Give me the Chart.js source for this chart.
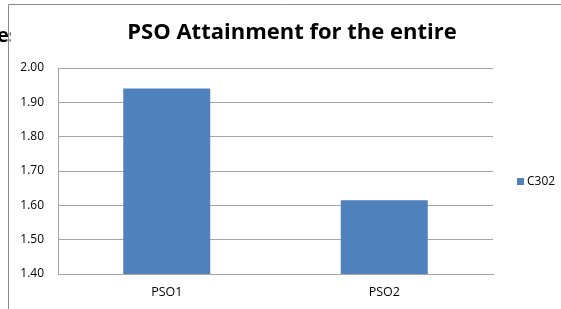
<!DOCTYPE html>
<html>
<head>
<meta charset="utf-8">
<script src="https://cdn.jsdelivr.net/npm/chart.js@4"></script>
<style>
  html, body { margin: 0; padding: 0; background: #fff; }
  #wrap { width: 561px; height: 309px; }
</style>
</head>
<body>
<div id="wrap"><canvas id="psoChart" width="561" height="309"></canvas></div>
<script>
// chart data
const categories = ['PSO1', 'PSO2'];
const seriesName = 'C302';
const attainment = [1.94, 1.615];
const yTicks = [1.4, 1.5, 1.6, 1.7, 1.8, 1.9, 2.0];
const chartTitle = 'PSO Attainment for the entire';

const barColor = '#4F81BD';
const gridColor = '#a6a6a6';
const font = 'Open Sans';

// frame, title fragment, title and legend drawn by hand
const framePlugin = {
  id: 'frame',
  beforeDraw(chart) {
    const ctx = chart.ctx;
    ctx.save();
    ctx.fillStyle = '#fff';
    ctx.fillRect(0, 0, chart.width, chart.height);
    // fragment of a neighbouring text behind the chart
    ctx.fillStyle = '#000';
    ctx.font = 'bold 20px "' + font + '"';
    ctx.textBaseline = 'alphabetic';
    ctx.fillText('es', -3, 42);
    ctx.fillStyle = '#fff';
    ctx.fillRect(10.5, 5, chart.width, chart.height);
    ctx.strokeStyle = '#8c8c8c';
    ctx.lineWidth = 1;
    ctx.beginPath();
    ctx.moveTo(8.5, chart.height);
    ctx.lineTo(8.5, 4.5);
    ctx.lineTo(chart.width, 4.5);
    ctx.stroke();
    ctx.restore();
  },
  afterDraw(chart) {
    const ctx = chart.ctx;
    ctx.save();
    ctx.fillStyle = '#000';
    ctx.font = 'bold 22px "' + font + '"';
    ctx.textAlign = 'center';
    ctx.textBaseline = 'middle';
    ctx.fillText(chartTitle, 292, 33);

    // legend
    const ds = chart.data.datasets[0];
    ctx.fillStyle = ds.backgroundColor;
    ctx.fillRect(517, 178, 7, 7);
    ctx.fillStyle = '#000';
    ctx.font = '12px "' + font + '"';
    ctx.textAlign = 'left';
    ctx.fillText(ds.label, 527, 182);
    ctx.restore();
  }
};

new Chart(document.getElementById('psoChart'), {
  type: 'bar',
  data: {
    labels: categories,
    datasets: [{
      label: seriesName,
      data: attainment,
      backgroundColor: barColor,
      borderWidth: 0,
      categoryPercentage: 1,
      barPercentage: 0.4
    }]
  },
  plugins: [framePlugin],
  options: {
    responsive: false,
    animation: false,
    devicePixelRatio: 1,
    layout: { padding: { top: 68, right: 68, left: 0, bottom: 0 } },
    plugins: {
      legend: { display: false },
      title: { display: false },
      tooltip: { enabled: false }
    },
    scales: {
      x: {
        grid: { display: false, drawTicks: false },
        border: { display: true, color: gridColor },
        ticks: { color: '#000', padding: 11, font: { family: font, size: 12.5 } },
        afterFit(scale) { scale.height = 35; }
      },
      y: {
        min: 1.4,
        max: 2.0,
        afterBuildTicks(scale) { scale.ticks = yTicks.map(v => ({ value: v })); },
        grid: { color: gridColor, drawTicks: false },
        border: { display: true, color: gridColor },
        ticks: {
          color: '#000',
          padding: 14,
          font: { family: font, size: 12 },
          callback: v => Number(v).toFixed(2)
        },
        afterFit(scale) { scale.width = 58; }
      }
    }
  }
});
</script>
</body>
</html>
